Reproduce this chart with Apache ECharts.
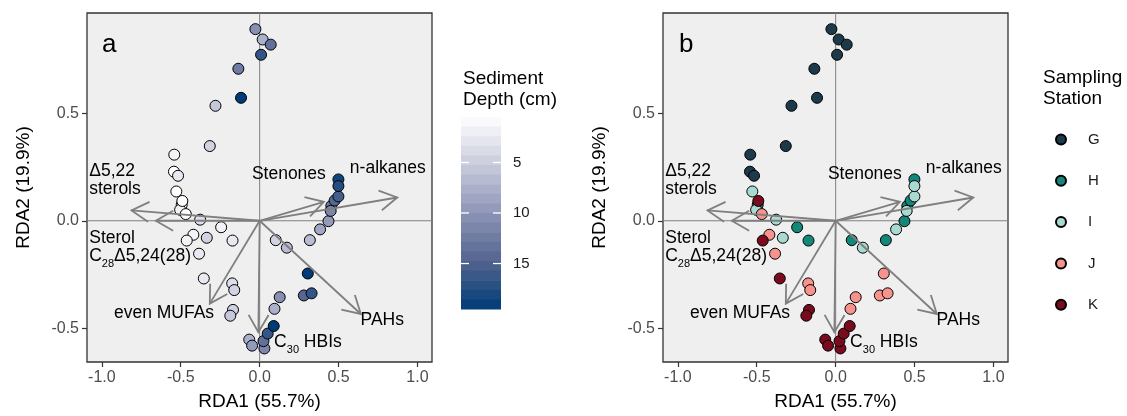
<!DOCTYPE html>
<html><head><meta charset="utf-8">
<script src="https://cdn.jsdelivr.net/npm/echarts@6/dist/echarts.min.js"></script>
<style>html,body{margin:0;padding:0;background:#fff}#c{width:1127px;height:416px}</style>
</head><body><div id="c"></div>
<script>
// ---------- data ----------
const stationNames = ['G', 'H', 'I', 'J', 'K'];
const stationColors = ['#1d3a4a', '#12877a', '#a8dad1', '#f7928c', '#7a0a1e'];

const sampleStation = ['G','G','G','G','G','G','G','G','G','G','G',
  'H','H','H','H','H','H','H','H','H',
  'I','I','I','I','I','I','I','I','I',
  'J','J','J','J','J','J','J','J','J','J',
  'K','K','K','K','K','K','K','K','K','K','K'];
const sampleRDA1 = [-0.027, 0.019, 0.070, 0.009, -0.135, -0.118, -0.280, -0.316, -0.541, -0.543, -0.517,
  -0.494, -0.244, -0.172, 0.102, 0.318, 0.436, 0.454, 0.475, 0.499,
  -0.528, -0.504, -0.377, -0.335, 0.172, 0.383, 0.450, 0.499, 0.499,
  -0.468, -0.420, -0.384, -0.174, -0.161, 0.094, 0.127, 0.280, 0.329, 0.305,
  -0.490, -0.462, -0.354, -0.169, -0.186, -0.066, -0.048, 0.030, 0.024, 0.051, 0.089];
const sampleRDA2 = [0.890, 0.842, 0.818, 0.771, 0.706, 0.571, 0.534, 0.347, 0.307, 0.228, 0.209,
  0.074, -0.030, -0.092, -0.090, -0.090, -0.002, 0.069, 0.094, 0.192,
  0.136, 0.051, 0.005, -0.079, -0.125, -0.040, 0.046, 0.113, 0.161,
  0.031, -0.065, -0.153, -0.291, -0.322, -0.409, -0.355, -0.347, -0.337, -0.245,
  0.092, -0.092, -0.268, -0.414, -0.441, -0.552, -0.580, -0.593, -0.559, -0.524, -0.489];
const sampleDepth = [10.5, 7.5, 13.5, 16.5, 12.5, 19.5, 5.5, 4.5, 1.5, 0.5, 2.5,
  0.5, 1.5, 2.5, 4.5, 6.5, 9.5, 12.5, 14.5, 18.5,
  0.5, 1.5, 3.5, 4.5, 6.5, 8.5, 11.5, 15.5, 17.5,
  0.5, 1.5, 2.5, 3.5, 4.5, 7.5, 10.5, 14.5, 16.5, 19.5,
  0.5, 1.5, 2.5, 4.5, 5.5, 7.5, 9.5, 11.5, 13.5, 16.5, 19.5];

const varNames = ['n-alkanes', 'Stenones', 'Δ5,22 sterols', 'Sterol C28Δ5,24(28)', 'even MUFAs', 'C30 HBIs', 'PAHs'];
const varRDA1 = [0.872, 0.407, -0.812, -0.658, -0.316, -0.008, 0.641];
const varRDA2 = [0.108, 0.088, 0.048, 0.000, -0.385, -0.518, -0.433];
const varLabelText = ['n-alkanes', 'Stenones', 'Δ5,22\nsterols', 'Sterol\nC{sub|28}Δ5,24(28)', 'even MUFAs', 'C{sub|30} HBIs', 'PAHs'];
const varLabelRDA1 = [0.812, 0.185, -1.080, -1.080, -0.606, 0.306, 0.777];
const varLabelRDA2 = [0.243, 0.215, 0.188, -0.122, -0.429, -0.562, -0.462];
const varLabelAlign = ['center', 'center', 'left', 'left', 'center', 'center', 'center'];

const xTicks = [-1.0, -0.5, 0.0, 0.5, 1.0];
const yTicks = [-0.5, 0.0, 0.5];
const depthTicks = [5, 10, 15];
const depthRange = [0.5, 19.5];
const xTitle = 'RDA1 (55.7%)';
const yTitle = 'RDA2 (19.9%)';

// ---------- styling ----------
const FONT = 'Liberation Sans, Arial, Helvetica, sans-serif';
const GRID_COMMON = {top: 13, width: 345, height: 352, show: true, backgroundColor: '#efefef', borderColor: '#333', borderWidth: 1.3};
const XMIN = -1.094, XMAX = 1.092, YMIN = -0.656, YMAX = 0.965;

function xAxisFor(g) {
  return {gridIndex: g, type: 'value', min: XMIN, max: XMAX,
    splitLine: {show: false}, axisLine: {show: false, onZero: false},
    axisTick: {show: true, length: 5, lineStyle: {color: '#333', width: 1.2}, customValues: xTicks},
    axisLabel: {customValues: xTicks, formatter: v => v.toFixed(1), color: '#4d4d4d', fontSize: 16, fontFamily: FONT, margin: 8},
    name: xTitle, nameLocation: 'middle', nameGap: 30, nameTextStyle: {fontSize: 19, color: '#000', fontFamily: FONT}};
}
function yAxisFor(g) {
  return {gridIndex: g, type: 'value', min: YMIN, max: YMAX,
    splitLine: {show: false}, axisLine: {show: false, onZero: false},
    axisTick: {show: true, length: 5, lineStyle: {color: '#333', width: 1.2}, customValues: yTicks},
    axisLabel: {customValues: yTicks, formatter: v => v.toFixed(1), color: '#4d4d4d', fontSize: 16, fontFamily: FONT, margin: 8},
    name: yTitle, nameLocation: 'middle', nameGap: 54, nameTextStyle: {fontSize: 19, color: '#000', fontFamily: FONT}};
}

function zeroLines(g) {
  return {type: 'custom', xAxisIndex: g, yAxisIndex: g, z: 1, silent: true, data: [[0, 0]],
    renderItem(params, api) {
      const cs = params.coordSys;
      const p = api.coord([0, 0]);
      const st = {stroke: '#808080', lineWidth: 1};
      return {type: 'group', children: [
        {type: 'line', shape: {x1: p[0], y1: cs.y, x2: p[0], y2: cs.y + cs.height}, style: st},
        {type: 'line', shape: {x1: cs.x, y1: p[1], x2: cs.x + cs.width, y2: p[1]}, style: st}
      ]};
    }};
}
function arrows(g) {
  return {type: 'custom', xAxisIndex: g, yAxisIndex: g, z: 4, silent: true,
    data: varRDA1.map((x, i) => [x, varRDA2[i]]),
    renderItem(params, api) {
      const p0 = api.coord([0, 0]);
      const p1 = api.coord([api.value(0), api.value(1)]);
      const ang = Math.atan2(p1[1] - p0[1], p1[0] - p0[0]);
      const L = 20, a = Math.PI / 6;
      const b1 = [p1[0] - L * Math.cos(ang - a), p1[1] - L * Math.sin(ang - a)];
      const b2 = [p1[0] - L * Math.cos(ang + a), p1[1] - L * Math.sin(ang + a)];
      const st = {stroke: '#7f7f7f', lineWidth: 1.8, fill: null};
      return {type: 'group', children: [
        {type: 'line', shape: {x1: p0[0], y1: p0[1], x2: p1[0], y2: p1[1]}, style: st},
        {type: 'polyline', shape: {points: [b1, p1, b2]}, style: st}
      ]};
    }};
}
function varLabels(g) {
  return {type: 'custom', xAxisIndex: g, yAxisIndex: g, z: 5, silent: true,
    data: varLabelRDA1.map((x, i) => [x, varLabelRDA2[i]]),
    renderItem(params, api) {
      const i = params.dataIndex;
      const p = api.coord([api.value(0), api.value(1)]);
      return {type: 'text', x: p[0], y: p[1], style: {
        text: varLabelText[i], fill: '#000', fontSize: 17.5, fontFamily: FONT, lineHeight: 18,
        align: varLabelAlign[i], verticalAlign: 'middle',
        rich: {sub: {fontSize: 11, fontFamily: FONT, fill: '#000', lineHeight: 2, padding: [16, 0, 0, 0]}}
      }};
    }};
}

const series = [];
series.push(zeroLines(0));
series.push({type: 'scatter', xAxisIndex: 0, yAxisIndex: 0, z: 3, symbolSize: 11,
  itemStyle: {borderColor: '#000', borderWidth: 1, opacity: 1},
  data: sampleRDA1.map((x, i) => [x, sampleRDA2[i], sampleDepth[i]])});
series.push(arrows(0));
series.push(varLabels(0));
series.push(zeroLines(1));
stationNames.forEach((s, k) => {
  series.push({type: 'scatter', name: s, xAxisIndex: 1, yAxisIndex: 1, z: 3, symbolSize: 11,
    itemStyle: {color: stationColors[k], borderColor: '#000', borderWidth: 1, opacity: 1},
    data: sampleRDA1.map((x, i) => [x, sampleRDA2[i]]).filter((d, i) => sampleStation[i] === s)});
});
series.push(arrows(1));
series.push(varLabels(1));
// colour bar (20 bins spanning the depth scale)
const nBins = 20;
const binH = (depthRange[1] - depthRange[0]) / nBins;
const binCenters = [];
for (let i = 0; i < nBins; i++) binCenters.push(depthRange[0] + binH * (i + 0.5));
const cbIndex = series.length;
series.push({type: 'custom', xAxisIndex: 2, yAxisIndex: 2, z: 2, silent: true,
  data: binCenters.map(v => [0, v, v]),
  renderItem(params, api) {
    const v = api.value(1);
    const a = api.coord([0, v - binH / 2]);
    const b = api.coord([1, v + binH / 2]);
    return {type: 'rect', shape: {x: a[0], y: Math.min(a[1], b[1]), width: b[0] - a[0], height: Math.abs(b[1] - a[1]) + 0.5},
      style: {fill: api.visual('color')}};
  }});
// colour bar tick marks (white, on both edges)
series.push({type: 'custom', xAxisIndex: 2, yAxisIndex: 2, z: 6, silent: true,
  data: depthTicks.map(v => [0, v]),
  renderItem(params, api) {
    const l = api.coord([0, api.value(1)]);
    const r = api.coord([1, api.value(1)]);
    const st = {stroke: '#ffffff', lineWidth: 1.3};
    return {type: 'group', children: [
      {type: 'line', shape: {x1: l[0], y1: l[1], x2: l[0] + 8, y2: l[1]}, style: st},
      {type: 'line', shape: {x1: r[0] - 8, y1: r[1], x2: r[0], y2: r[1]}, style: st}
    ]};
  }});

const option = {
  animation: false,
  title: [
    {text: 'a', left: 102, top: 32, padding: 0, textStyle: {fontSize: 26, fontWeight: 'normal', color: '#000', fontFamily: FONT}},
    {text: 'b', left: 679, top: 32, padding: 0, textStyle: {fontSize: 26, fontWeight: 'normal', color: '#000', fontFamily: FONT}},
    {text: 'Sediment\nDepth (cm)', left: 463, top: 68, padding: 0, textStyle: {fontSize: 19, lineHeight: 21, fontWeight: 'normal', color: '#000', fontFamily: FONT}},
    {text: 'Sampling\nStation', left: 1043, top: 67, padding: 0, textStyle: {fontSize: 19, lineHeight: 21, fontWeight: 'normal', color: '#000', fontFamily: FONT}}
  ],
  grid: [
    Object.assign({left: 87}, GRID_COMMON),
    Object.assign({left: 663}, GRID_COMMON),
    {left: 461, top: 117, width: 40, height: 192, show: false}
  ],
  xAxis: [xAxisFor(0), xAxisFor(1), {gridIndex: 2, type: 'value', min: 0, max: 1, show: false}],
  yAxis: [yAxisFor(0), yAxisFor(1),
    {gridIndex: 2, type: 'value', min: depthRange[0], max: depthRange[1], inverse: true, position: 'right',
      splitLine: {show: false}, axisLine: {show: false}, axisTick: {show: false},
      axisLabel: {customValues: depthTicks, color: '#1a1a1a', fontSize: 15, fontFamily: FONT, margin: 12}}],
  visualMap: [{type: 'continuous', show: false, min: depthRange[0], max: depthRange[1], dimension: 2,
    seriesIndex: [1, cbIndex],
    inRange: {color: ['#ffffff', '#c8cbdd', '#8d95b7', '#53648f', '#003b79']}}],
  legend: {orient: 'vertical', left: 1055, top: 132, padding: 0, itemWidth: 10, itemHeight: 10, itemGap: 26.3,
    icon: 'circle', data: stationNames,
    textStyle: {fontSize: 15, lineHeight: 12, color: '#1a1a1a', fontFamily: FONT, padding: [0, 0, 0, 17]}},
  series: series
};
const chart = echarts.init(document.getElementById('c'), null, {renderer: 'canvas'});
chart.setOption(option);
</script></body></html>
